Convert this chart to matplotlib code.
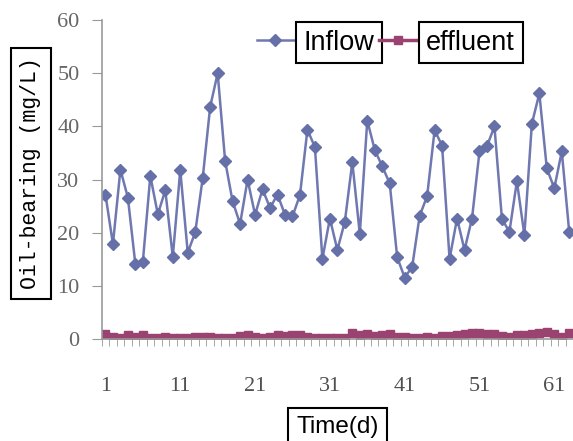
import numpy as np
import matplotlib.pyplot as plt
from matplotlib.ticker import FixedLocator

days = np.arange(1, 64)
inflow = [27.2, 17.9, 31.9, 26.6, 14.1, 14.6, 30.7, 23.5, 28.0, 15.5,
          31.8, 16.3, 20.1, 30.3, 43.7, 50.0, 33.5, 25.9, 21.7, 30.0,
          23.4, 28.2, 24.7, 27.2, 23.4, 23.1, 27.1, 39.4, 36.1, 15.1,
          22.7, 16.8, 22.1, 33.3, 19.8, 41.1, 35.6, 32.5, 29.3, 15.4,
          11.6, 13.6, 23.2, 26.9, 39.3, 36.4, 15.1, 22.7, 16.8, 22.7,
          35.3, 36.3, 40.0, 22.6, 20.2, 29.7, 19.6, 40.5, 46.2, 32.1,
          28.4, 35.3, 20.1]
effluent = [1.0, 0.4, 0.2, 0.9, 0.4, 0.9, 0.3, 0.3, 0.4, 0.3,
            0.2, 0.2, 0.5, 0.5, 0.5, 0.2, 0.2, 0.2, 0.6, 0.9,
            0.5, 0.3, 0.4, 0.9, 0.6, 0.9, 0.9, 0.4, 0.3, 0.3,
            0.3, 0.3, 0.3, 1.1, 0.9, 1.0, 0.7, 0.9, 1.0, 0.5,
            0.5, 0.3, 0.3, 0.4, 0.3, 0.7, 0.6, 0.9, 1.0, 1.2,
            1.2, 1.0, 1.0, 0.7, 0.5, 0.9, 0.8, 1.0, 1.1, 1.3,
            1.0, 0.5, 1.1]
xtick_labels = [1, 11, 21, 31, 41, 51, 61]
yticks = [0, 10, 20, 30, 40, 50, 60]

fig = plt.figure(figsize=(5.73, 4.41), dpi=100)
ax = fig.add_axes([0.1775, 0.2306, 0.8225, 0.724])

ax.plot(days, inflow, color='#6f78b0', lw=1.8, marker='D', ms=6,
        mfc='#6670a8', mec='#6670a8', label='Inflow')
ax.plot(days, effluent, color='#9b4370', lw=2.5, marker='s', ms=6,
        mfc='#9b4370', mec='#9b4370', label='effluent')

ax.set_xlim(0.5, 63.5)
ax.set_ylim(0, 60)
ax.set_yticks(yticks)
ax.set_xticks(xtick_labels)
ax.xaxis.set_minor_locator(FixedLocator(np.arange(0.5, 64, 1)))
ax.tick_params(axis='x', which='major', length=0, pad=27, labelsize=16,
               labelcolor='#505050')
ax.tick_params(axis='x', which='minor', length=5, color='#999999', direction='out')
ax.tick_params(axis='y', length=7, color='#999999', pad=9, labelsize=16,
               labelcolor='#666666')
for lab in ax.get_xticklabels() + ax.get_yticklabels():
    lab.set_family('Liberation Serif')

ax.spines['top'].set_visible(False)
ax.spines['right'].set_visible(False)
ax.spines['left'].set_color('#999999')
ax.spines['bottom'].set_color('#999999')
ax.spines['left'].set_linewidth(1.2)
ax.spines['bottom'].set_linewidth(1.2)

ax.set_ylabel('Oil-bearing (mg/L)', family='Liberation Mono', fontsize=15.5,
              bbox=dict(facecolor='white', edgecolor='black', lw=1.5, pad=7))
ax.yaxis.set_label_coords(-0.128, 0.52)
ax.set_xlabel('Time(d)', family='Liberation Sans', fontsize=17.5,
              bbox=dict(facecolor='white', edgecolor='black', lw=1.5, pad=6))
ax.xaxis.set_label_coords(0.5, -0.24)

leg = ax.legend(loc='upper left', bbox_to_anchor=(0.3285, 0.97), ncol=2,
                frameon=False, borderpad=0, borderaxespad=0,
                handlelength=1.4, handletextpad=0.35, columnspacing=0.15,
                prop={'family': 'Liberation Sans', 'size': 19.5})
for t in leg.get_texts():
    t.set_bbox(dict(facecolor='white', edgecolor='black', lw=1.5, pad=5.5))

fig.savefig('out.png', dpi=100)
